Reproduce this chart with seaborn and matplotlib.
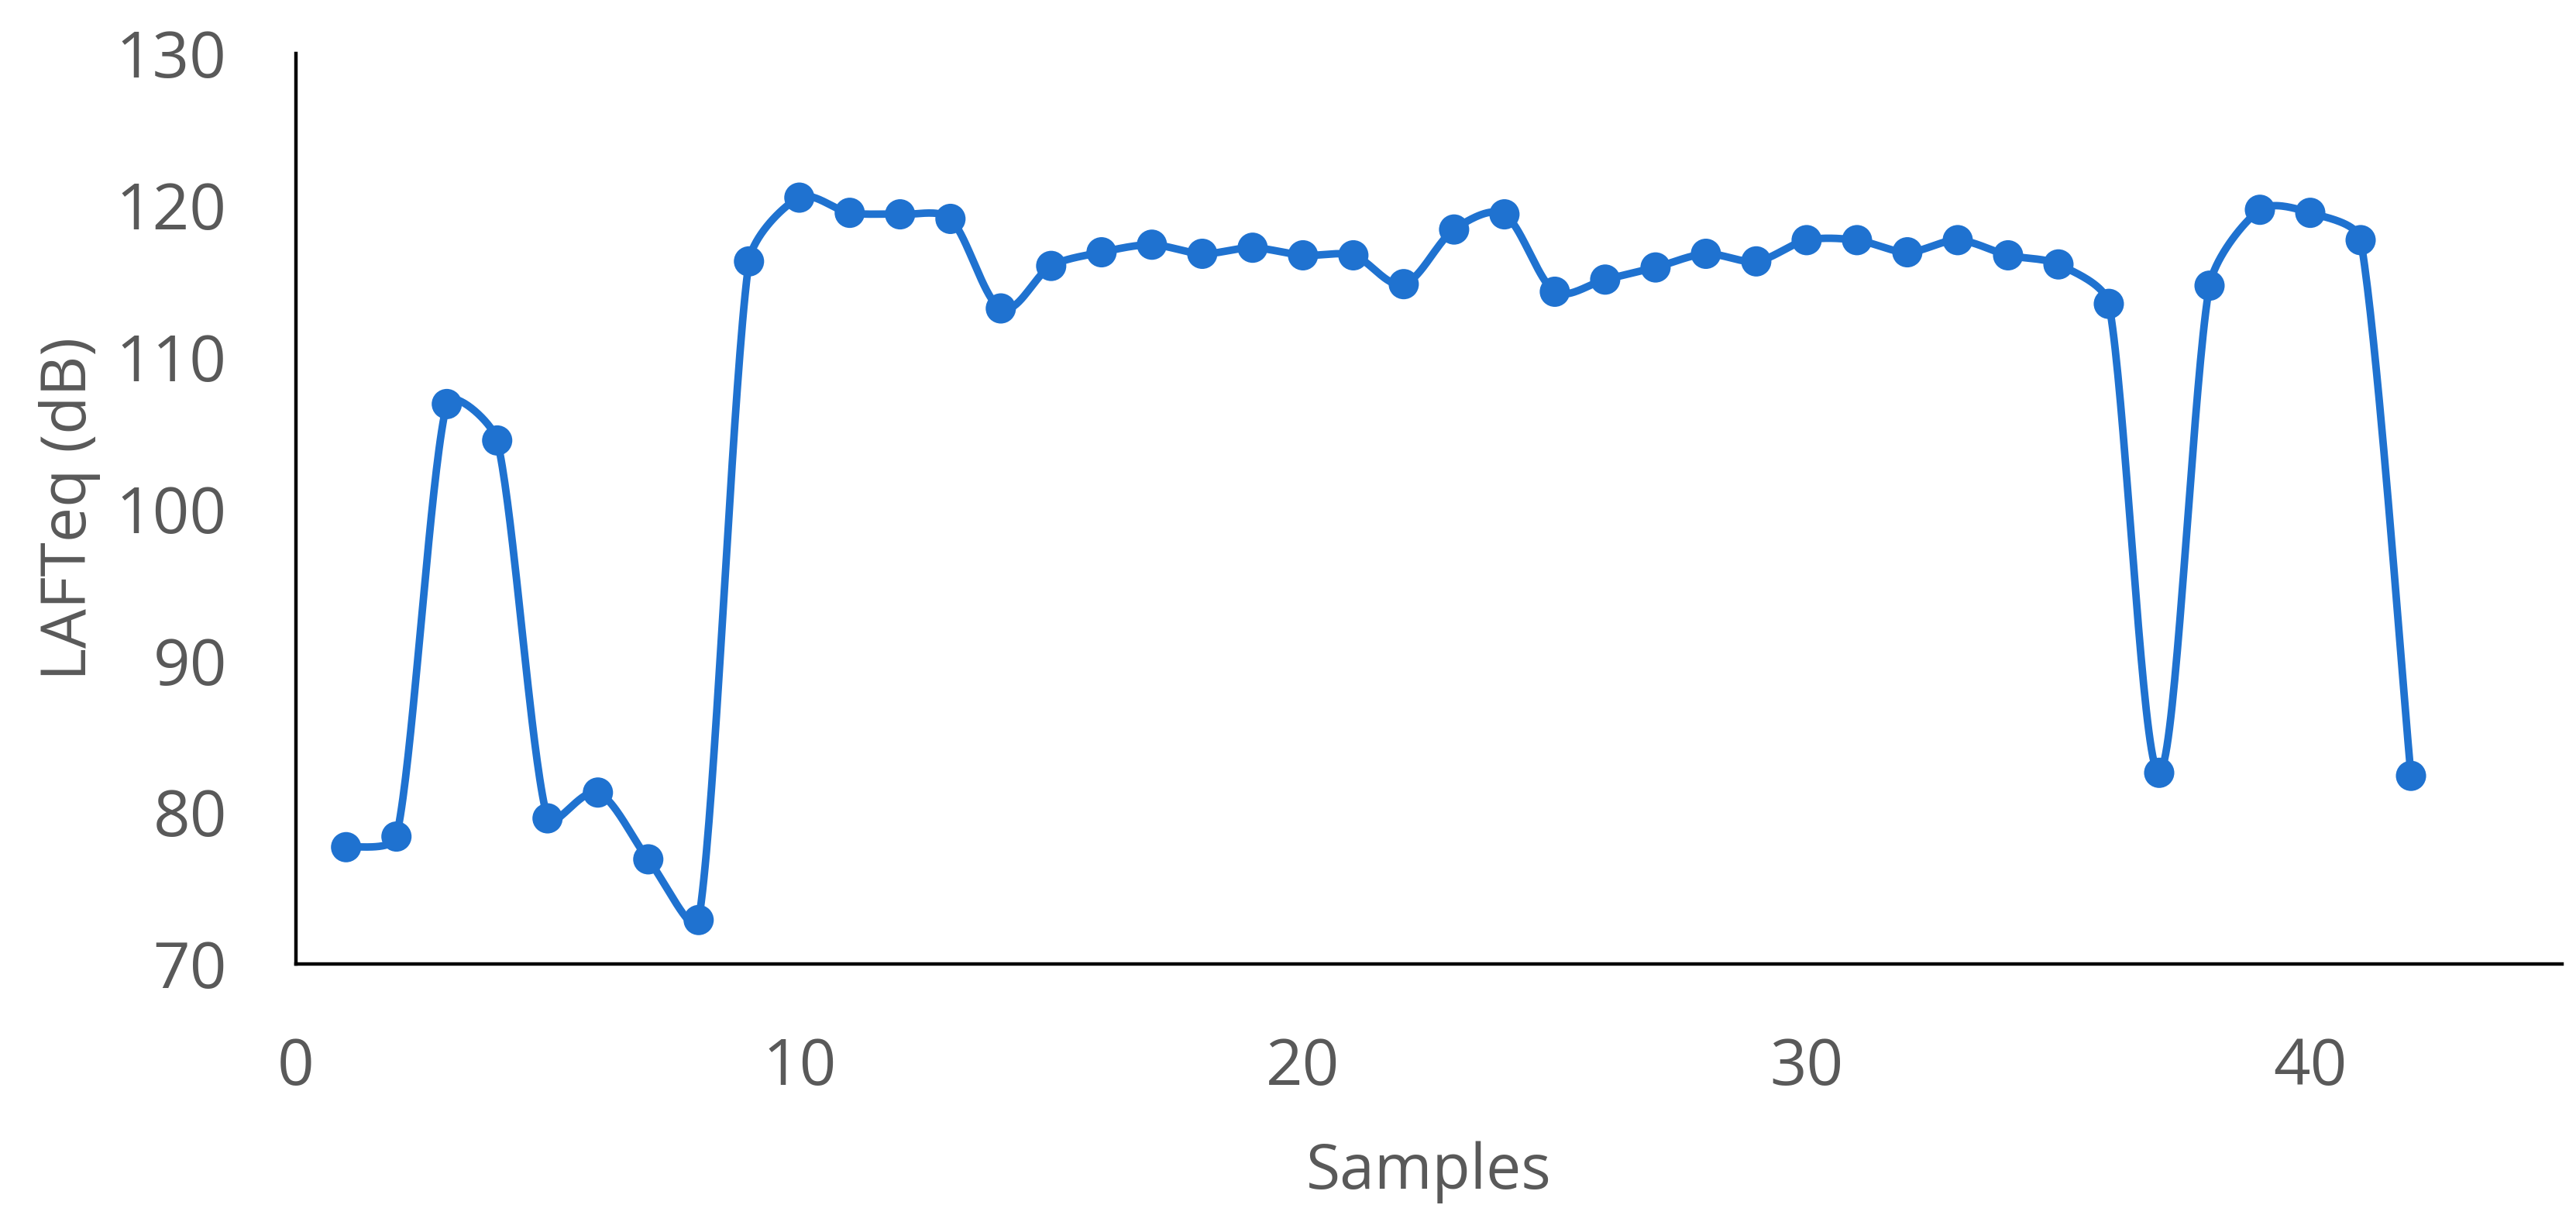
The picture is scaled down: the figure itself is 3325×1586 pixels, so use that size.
import numpy as np
import pandas as pd
import matplotlib.pyplot as plt
import seaborn as sns

# values
samples = list(range(1, 43))
lafteq = [77.7, 78.4, 106.9, 104.5, 79.6, 81.3, 76.9, 72.9, 116.3, 120.5,
          119.5, 119.4, 119.1, 113.2, 116.0, 116.9, 117.4, 116.8, 117.2, 116.7,
          116.7, 114.8, 118.4, 119.4, 114.3, 115.1, 115.9, 116.8, 116.3, 117.7,
          117.7, 116.9, 117.7, 116.7, 116.1, 113.5, 82.6, 114.7, 119.7, 119.5,
          117.7, 82.4]
x_ticks = [0, 10, 20, 30, 40]
y_ticks = [70, 80, 90, 100, 110, 120, 130]
x_range = (0, 45)
y_range = (70, 130)

blue = "#1f72d0"
grey = "#595959"

W, H = 33.25, 15.86
rect = [0.1148, 0.2156, 0.8798, 0.7409]


def smooth_curve(x, y, n=40, k=0.3):
    # Excel-like smoothed line: Catmull-Rom handles, capped by segment length
    sx = rect[2] * W / (x_range[1] - x_range[0])
    sy = rect[3] * H / (y_range[1] - y_range[0])
    P = np.column_stack([np.asarray(x, float) * sx, np.asarray(y, float) * sy])
    m = len(P)
    tang = np.zeros_like(P)
    for i in range(m):
        tang[i] = P[min(i + 1, m - 1)] - P[max(i - 1, 0)]
    t = np.linspace(0, 1, n)[:, None]
    out = []
    for i in range(m - 1):
        p0, p3 = P[i], P[i + 1]
        L = np.hypot(*(p3 - p0))
        h0, h1 = tang[i] / 6, tang[i + 1] / 6
        l0, l1 = np.hypot(*h0), np.hypot(*h1)
        if l0 > k * L:
            h0 = h0 * k * L / l0
        if l1 > k * L:
            h1 = h1 * k * L / l1
        c1 = p0 + h0
        c2 = p3 - h1
        pts = (1 - t) ** 3 * p0 + 3 * (1 - t) ** 2 * t * c1 + 3 * (1 - t) * t ** 2 * c2 + t ** 3 * p3
        out.append(pts)
    out = np.vstack(out)
    return out[:, 0] / sx, out[:, 1] / sy


sns.set_style("white")
plt.rcParams["font.family"] = ["Open Sans", "DejaVu Sans"]

df = pd.DataFrame({"Samples": samples, "LAFTeq": lafteq})
cx, cy = smooth_curve(df["Samples"], df["LAFTeq"])
curve = pd.DataFrame({"x": cx, "y": cy})

fig = plt.figure(figsize=(W, H), dpi=100)
ax = fig.add_axes(rect)

sns.lineplot(data=curve, x="x", y="y", sort=False, ax=ax, color=blue, linewidth=7)
sns.scatterplot(data=df, x="Samples", y="LAFTeq", ax=ax, color=blue, s=790,
                edgecolor="none", zorder=3)

ax.set_xlim(*x_range)
ax.set_ylim(*y_range)
ax.set_xticks(x_ticks)
ax.set_yticks(y_ticks)
ax.tick_params(axis="both", length=0, labelsize=60, labelcolor=grey)
ax.tick_params(axis="x", pad=67)
ax.tick_params(axis="y", pad=64)

ax.set_xlabel("Samples", fontsize=58, color=grey, labelpad=38)
ax.set_ylabel("LAFTeq (dB)", fontsize=58, color=grey, labelpad=14)

sns.despine(ax=ax)
for side in ["left", "bottom"]:
    ax.spines[side].set_color("black")
    ax.spines[side].set_linewidth(3.2)

fig.savefig("out.png", dpi=100, facecolor="white")
